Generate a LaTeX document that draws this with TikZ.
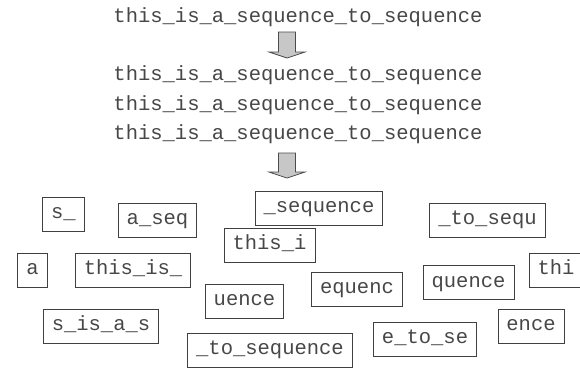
\documentclass[tikz,border=0pt]{standalone}
\usepackage{fontspec}
\setmonofont{Liberation Mono}
\begin{document}
\begin{tikzpicture}[x=1pt,y=-1pt,
  txt/.style={font=\ttfamily\fontsize{20.5}{24}\selectfont, text=black!72, inner sep=0pt},
  frag/.style={txt, draw=black!75, line width=0.8pt, inner xsep=8.5pt, minimum height=34pt, text height=12pt, text depth=3pt},
  blockarrow/.style={fill=black!22, draw=black!70, line width=0.8pt, line join=miter}]
\useasboundingbox (0,0) rectangle (580,368);
\clip (0,0) rectangle (580,368);
% source and copies
\node[txt] (src) at (298,17) {this\_is\_a\_sequence\_to\_sequence};
\node[txt] (c1) at (298,75) {this\_is\_a\_sequence\_to\_sequence};
\node[txt] (c2) at (298,105) {this\_is\_a\_sequence\_to\_sequence};
\node[txt] (c3) at (298,134) {this\_is\_a\_sequence\_to\_sequence};
% block arrows
\coordinate (a1) at (287,32);
\coordinate (a2) at (287,153);
\draw[blockarrow] ([xshift=-8.5pt]a1) -- ([xshift=8.5pt]a1) -- ([shift={(8.5,20)}]a1) -- ([shift={(18,20)}]a1) -- ([shift={(0,26)}]a1) -- ([shift={(-18,20)}]a1) -- ([shift={(-8.5,20)}]a1) -- cycle;
\draw[blockarrow] ([xshift=-8.5pt]a2) -- ([xshift=8.5pt]a2) -- ([shift={(8.5,19)}]a2) -- ([shift={(18,19)}]a2) -- ([shift={(0,25)}]a2) -- ([shift={(-18,19)}]a2) -- ([shift={(-8.5,19)}]a2) -- cycle;
% fragments
\node[frag] (f1) at (63.5,214) {s\_};
\node[frag] (f2) at (157.5,220) {a\_seq};
\node[frag] (f3) at (319,208) {\_sequence};
\node[frag] (f4) at (269.5,245) {this\_i};
\node[frag] (f5) at (32.5,270) {a};
\node[frag] (f6) at (133,270) {this\_is\_};
\node[frag] (f7) at (244.5,301) {uence};
\node[frag] (f8) at (101,326) {s\_is\_a\_s};
\node[frag] (f9) at (270,350) {\_to\_sequence};
\node[frag] (f10) at (487.5,220) {\_to\_sequ};
\node[frag] (f11) at (556,270) {thi};
\node[frag] (f12) at (357,289) {equenc};
\node[frag] (f13) at (468.5,282.5) {quence};
\node[frag] (f14) at (531,326) {ence};
\node[frag] (f15) at (425,339) {e\_to\_se};
\end{tikzpicture}
\end{document}
